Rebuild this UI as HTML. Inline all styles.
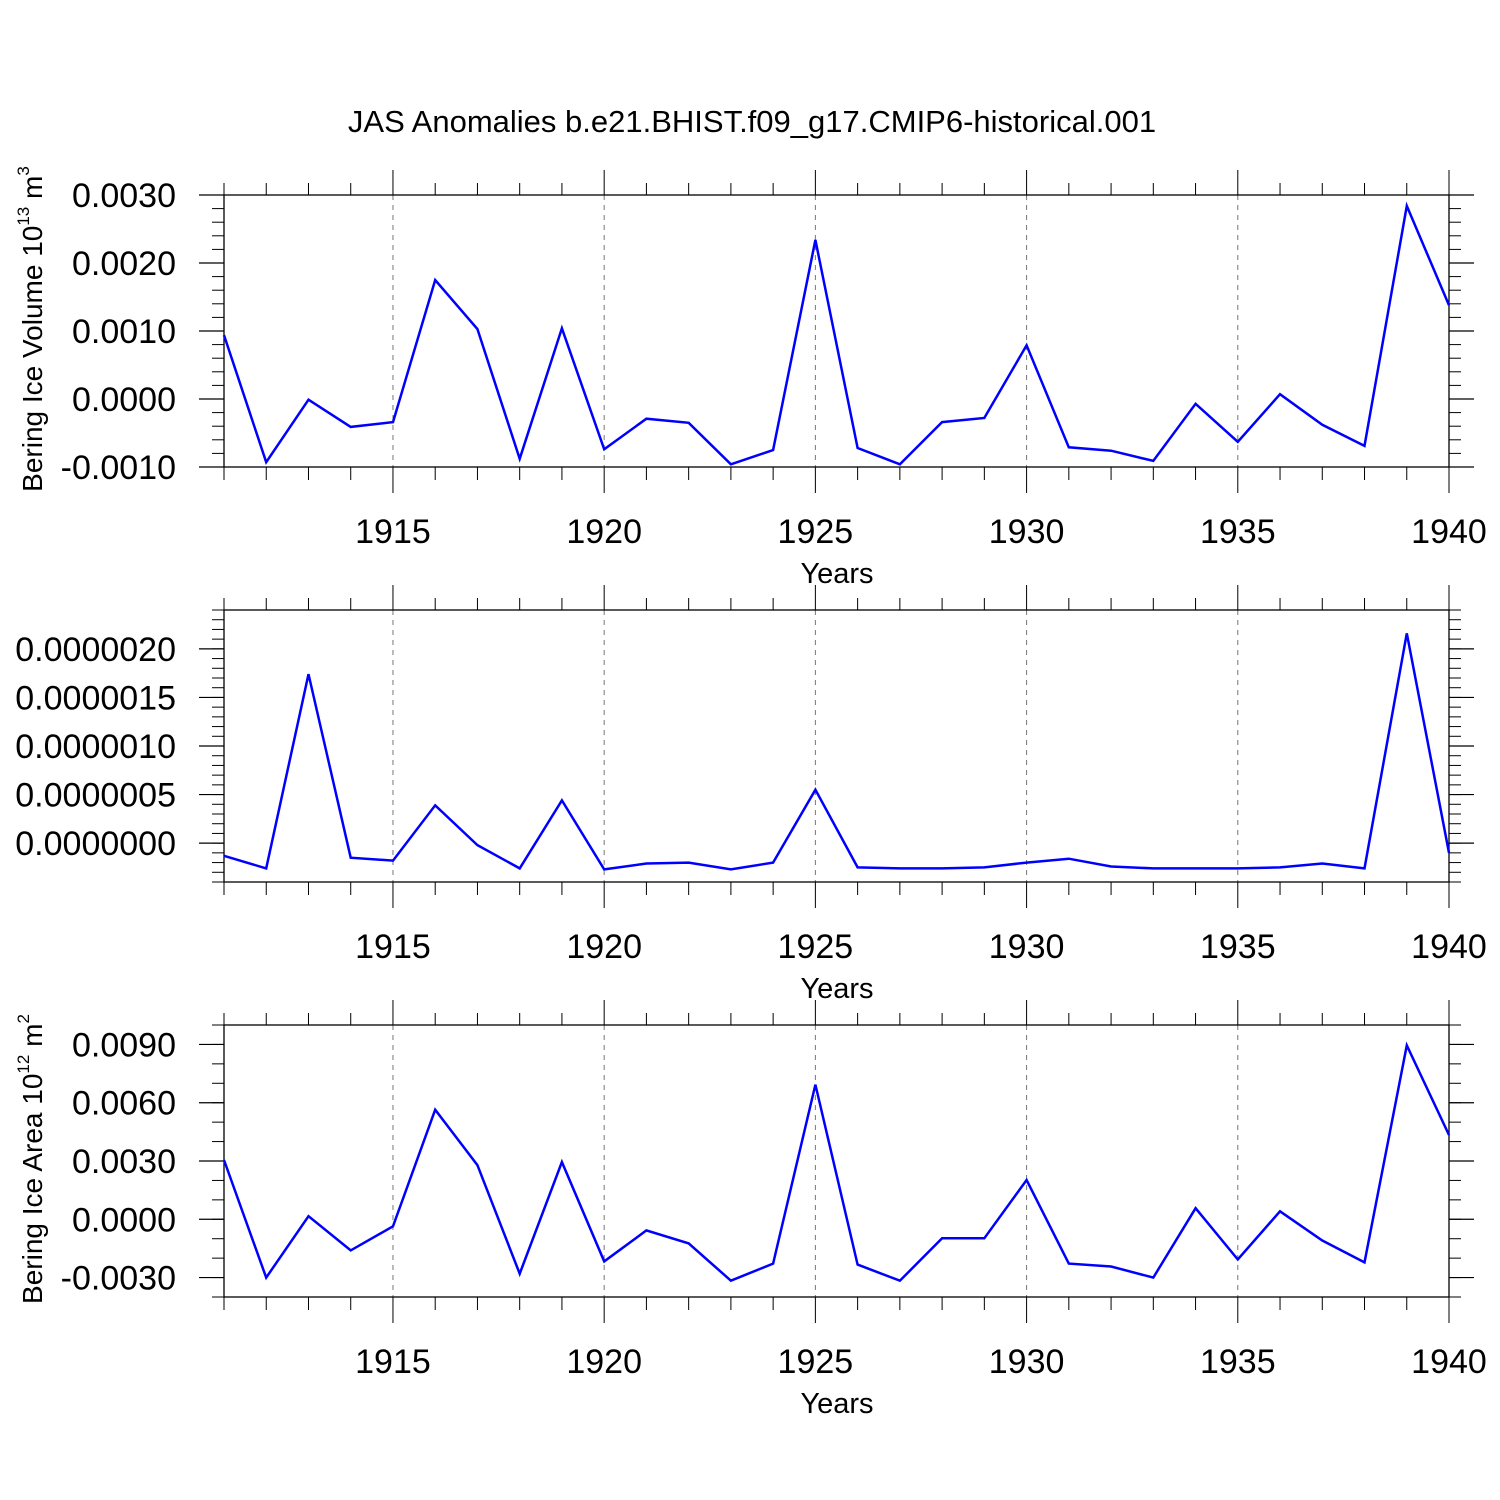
<!DOCTYPE html>
<html><head><meta charset="utf-8"><style>
html,body{margin:0;padding:0;background:#fff;}
svg{display:block;font-family:"Liberation Sans",sans-serif;}
</style></head><body>
<svg id="chart" width="1500" height="1500" viewBox="0 0 1500 1500" xmlns="http://www.w3.org/2000/svg">
<rect width="1500" height="1500" fill="#fff"/>
<text x="752" y="132" font-size="31" text-anchor="middle">JAS Anomalies b.e21.BHIST.f09_g17.CMIP6-historical.001</text>
</svg>
<script>
const years = [1911,1912,1913,1914,1915,1916,1917,1918,1919,1920,1921,1922,1923,1924,1925,1926,1927,1928,1929,1930,1931,1932,1933,1934,1935,1936,1937,1938,1939,1940];
const volumeValues = [0.00094,-0.00093,-0.00001,-0.00041,-0.00034,0.00175,0.00103,-0.00088,0.00104,-0.00074,-0.00029,-0.00035,-0.00096,-0.00075,0.00234,-0.00072,-0.00096,-0.00034,-0.00028,0.00079,-0.00071,-0.00076,-0.00091,-0.00007,-0.00063,0.00007,-0.00038,-0.00069,0.00284,0.00138];
const middleValues = [-0.13e-6,-0.26e-6,1.74e-6,-0.15e-6,-0.18e-6,0.39e-6,-0.02e-6,-0.26e-6,0.44e-6,-0.27e-6,-0.21e-6,-0.20e-6,-0.27e-6,-0.20e-6,0.55e-6,-0.25e-6,-0.26e-6,-0.26e-6,-0.25e-6,-0.20e-6,-0.16e-6,-0.24e-6,-0.26e-6,-0.26e-6,-0.26e-6,-0.25e-6,-0.21e-6,-0.26e-6,2.16e-6,-0.10e-6];
const areaValues = [0.00305,-0.0030,0.00016,-0.0016,-0.00036,0.00564,0.00279,-0.0028,0.00295,-0.00217,-0.00057,-0.00124,-0.00316,-0.00228,0.00693,-0.00233,-0.00316,-0.00098,-0.00098,0.00202,-0.00228,-0.00243,-0.0030,0.00057,-0.00207,0.00041,-0.00109,-0.00222,0.00895,0.00434];
const xTickLabels = [1915,1920,1925,1930,1935,1940];
const volumeTicks = [0.003,0.002,0.001,0,-0.001];
const volumeTickLabels = ["0.0030","0.0020","0.0010","0.0000","-0.0010"];
const middleTicks = [2e-6,1.5e-6,1e-6,0.5e-6,0];
const middleTickLabels = ["0.0000020","0.0000015","0.0000010","0.0000005","0.0000000"];
const areaTicks = [0.009,0.006,0.003,0,-0.003];
const areaTickLabels = ["0.0090","0.0060","0.0030","0.0000","-0.0030"];

const NS="http://www.w3.org/2000/svg";
const svg=document.getElementById('chart');
function mk(tag,attrs,parent){const e=document.createElementNS(NS,tag);for(const k in attrs)e.setAttribute(k,attrs[k]);(parent||svg).appendChild(e);return e;}
const X0=224,X1=1449;
function xs(yr){return X0+(yr-1911)/(1940-1911)*(X1-X0);}

function panel(name,top,bot,ymin,ymax,minorStep,ticks,labels,values,ylabel,exp,unit){
  const g=mk('g',{});
  
  
  const ys=v=>bot-(v-ymin)/(ymax-ymin)*(bot-top);
  xTickLabels.forEach(yr=>{if(yr<1940){const l=mk('line',{x1:xs(yr),x2:xs(yr),y1:top,y2:bot,stroke:'#777','stroke-width':1,'stroke-dasharray':'5,5'},g);
  
  }});
  years.forEach(yr=>{const x=xs(yr);const maj=xTickLabels.includes(yr);
    mk('line',{x1:x,x2:x,y1:top-(maj?25:12),y2:top,stroke:'#000','stroke-width':1},g);
    mk('line',{x1:x,x2:x,y1:bot,y2:bot+(maj?26:13),stroke:'#000','stroke-width':1},g);});
  const n=Math.round((ymax-ymin)/minorStep);
  for(let i=0;i<=n;i++){const v=ymin+i*minorStep;const y=ys(v);
    if(y<top-0.5||y>bot+0.5)continue;
    mk('line',{x1:X0-12,x2:X0,y1:y,y2:y,stroke:'#000','stroke-width':1},g);
    mk('line',{x1:X1,x2:X1+12,y1:y,y2:y,stroke:'#000','stroke-width':1},g);}
  ticks.forEach((v,i)=>{const y=ys(v);
    mk('line',{x1:X0-25,x2:X0,y1:y,y2:y,stroke:'#000','stroke-width':1.2},g);
    mk('line',{x1:X1,x2:X1+25,y1:y,y2:y,stroke:'#000','stroke-width':1.2},g);
    const t=mk('text',{x:176,y:y+12,'font-size':34,'text-anchor':'end'},g);t.textContent=labels[i];
    
    });
  xTickLabels.forEach(yr=>{const t=mk('text',{x:xs(yr),y:bot+76,'font-size':34,'text-anchor':'middle'},g);t.textContent=yr;
    
    });
  const xt=mk('text',{x:837,y:bot+116,'font-size':29,'text-anchor':'middle'},g);xt.textContent='Years';
  
  
  mk('rect',{x:X0,y:top,width:X1-X0,height:bot-top,fill:'none',stroke:'#000','stroke-width':1.3},g);
  const pts=years.map((yr,i)=>xs(yr).toFixed(1)+','+ys(values[i]).toFixed(1)).join(' ');
  const pl=mk('polyline',{points:pts,fill:'none',stroke:'#0000ff','stroke-width':2.5,'stroke-linejoin':'miter'},g);
  
  
  if(ylabel){const cy=(top+bot)/2-2;
    const t=mk('text',{x:0,y:0,'font-size':28,'text-anchor':'middle',transform:`translate(42,${cy}) rotate(-90)`},g);
    
    
    const a=mk('tspan',{},t);a.textContent=ylabel+' 10';
    const b=mk('tspan',{'font-size':17,dy:-13},t);b.textContent=exp;
    const c=mk('tspan',{dy:13},t);c.textContent=' m';
    const d=mk('tspan',{'font-size':17,dy:-13},t);d.textContent=unit;}
}
panel('volume',195,467,-0.001,0.003,0.0002,volumeTicks,volumeTickLabels,volumeValues,'Bering Ice Volume','13','3');
panel('middle',610,882,-0.4e-6,2.4e-6,0.1e-6,middleTicks,middleTickLabels,middleValues,null);
panel('area',1025,1297,-0.004,0.01,0.001,areaTicks,areaTickLabels,areaValues,'Bering Ice Area','12','2');
</script>
</body></html>
